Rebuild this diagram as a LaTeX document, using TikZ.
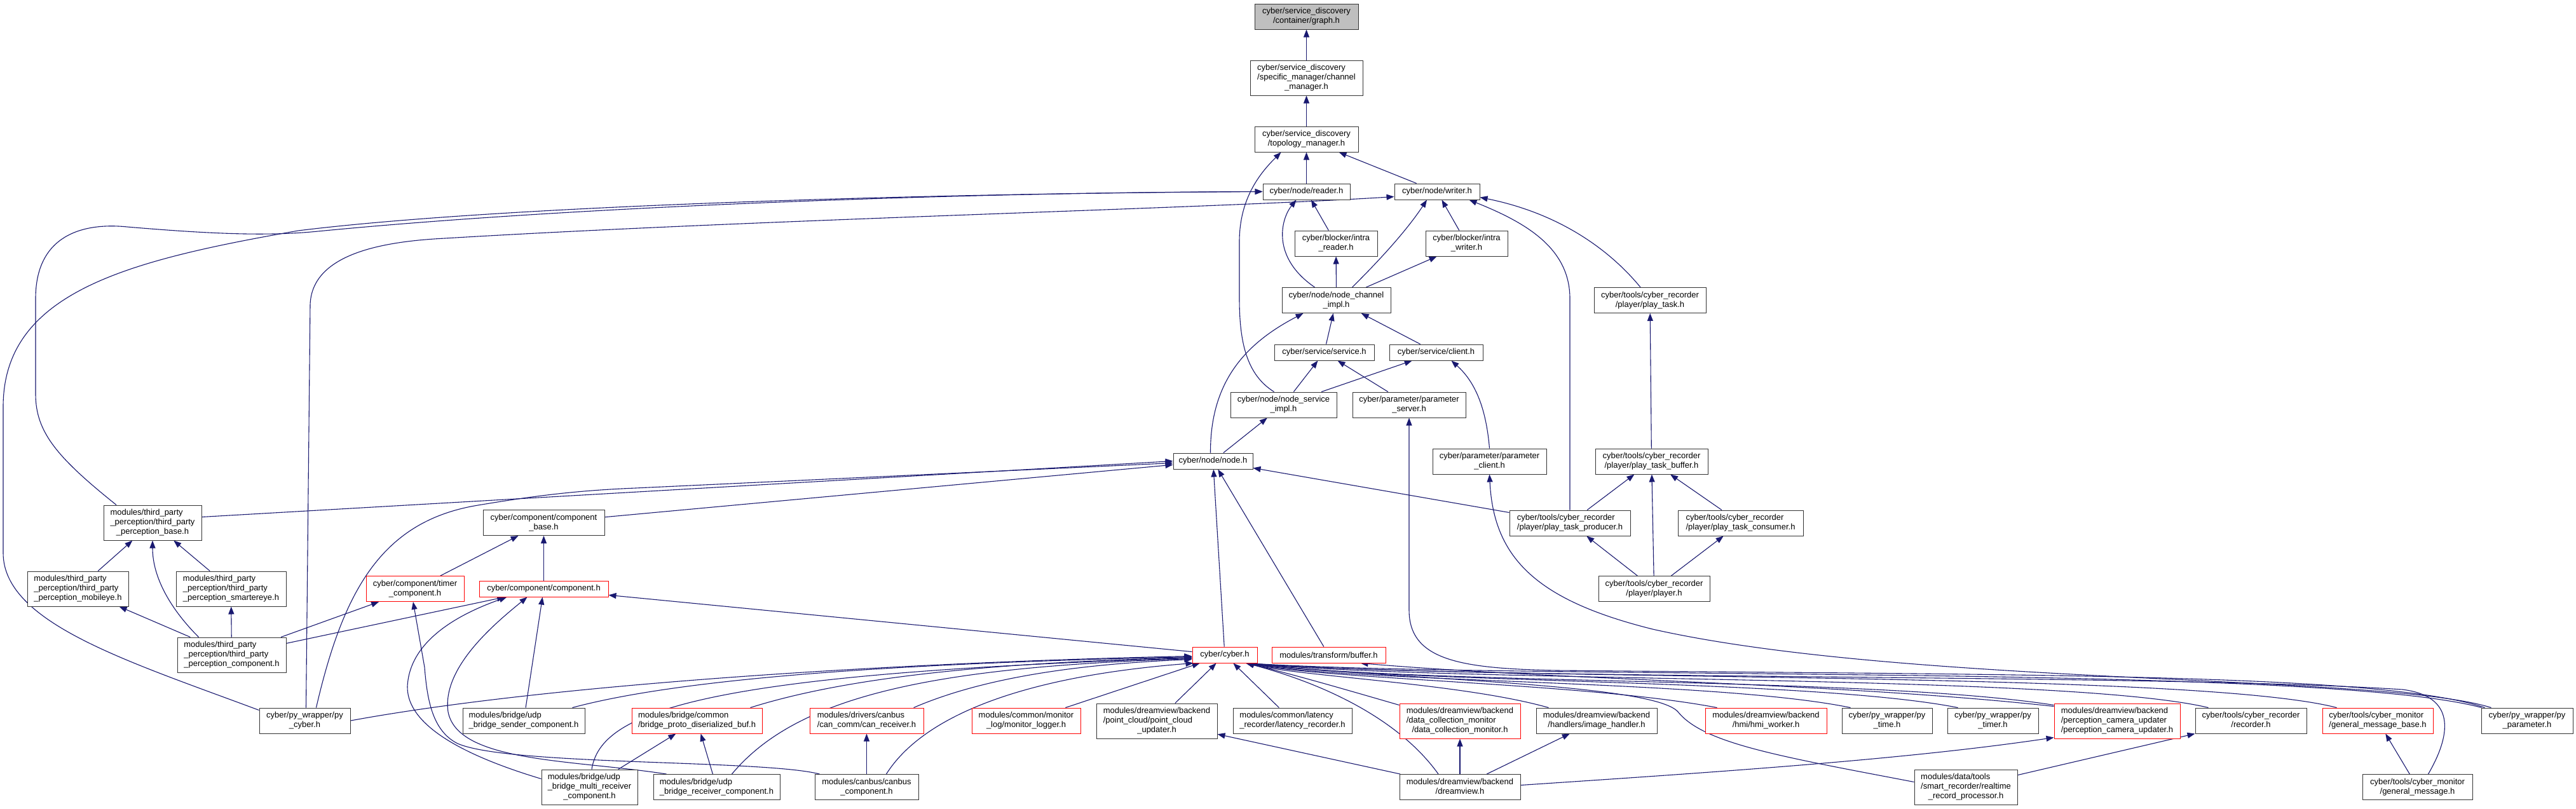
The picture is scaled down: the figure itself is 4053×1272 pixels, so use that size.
\documentclass[tikz,border=0pt]{standalone}
\usepackage{fontspec}
\setmainfont{Liberation Sans}
\usetikzlibrary{arrows.meta,calc}
\definecolor{edgec}{HTML}{191970}
\definecolor{rootc}{HTML}{BFBFBF}
\definecolor{redc}{HTML}{FF0000}
\definecolor{boxc}{HTML}{333333}
\newcommand{\dlab}[2]{\begin{tabular}{@{}l@{}}#1\\\multicolumn{1}{@{}c@{}}{#2}\end{tabular}}
\pgfdeclarelayer{paper}
\pgfdeclarelayer{bg}
\pgfsetlayers{paper,bg,main}
\begin{document}
\begin{tikzpicture}[x=1pt,y=-1pt,
  box/.style={draw=boxc,line width=1pt,inner sep=0pt,fill=white,font=\fontsize{13}{15}\selectfont},
  rbox/.style={box,draw=redc},
  root/.style={box,fill=rootc},
  sz/.style 2 args={minimum width=#1pt,minimum height=#2pt},
  dep/.style={draw=edgec,line width=1.1pt,-{Triangle[length=12pt,width=9pt]}}]
\begin{pgfonlayer}{paper}
\fill[white] (0,0) rectangle (4053,1272);
\end{pgfonlayer}
\useasboundingbox (0,0) rectangle (4053,1272);

% ---- top chain
\node[root,sz={163}{40}] (graph) at (2055.5,26) {\dlab{cyber/service\_discovery}{/container/graph.h}};
\node[box,sz={177}{55}] (chman) at (2055.5,122.5) {\dlab{cyber/service\_discovery\\/specific\_manager/channel}{\_manager.h}};
\node[box,sz={163}{40}] (topo) at (2055.5,219) {\dlab{cyber/service\_discovery}{/topology\_manager.h}};
\node[box,sz={137}{25}] (reader) at (2055.5,301.5) {cyber/node/reader.h};
\node[box,sz={134}{25}] (writer) at (2261,301.5) {cyber/node/writer.h};
\node[box,sz={130}{40}] (ireader) at (2102,383) {\dlab{cyber/blocker/intra}{\_reader.h}};
\node[box,sz={129}{40}] (iwriter) at (2307.5,383) {\dlab{cyber/blocker/intra}{\_writer.h}};
\node[box,sz={171}{40}] (nci) at (2102.5,472.5) {\dlab{cyber/node/node\_channel}{\_impl.h}};
\node[box,sz={157}{25}] (service) at (2083.5,554.5) {cyber/service/service.h};
\node[box,sz={147}{25}] (client) at (2259.5,554.5) {cyber/service/client.h};
\node[box,sz={167}{40}] (nsi) at (2019.5,637) {\dlab{cyber/node/node\_service}{\_impl.h}};
\node[box,sz={178}{40}] (pserver) at (2217,637) {\dlab{cyber/parameter/parameter}{\_server.h}};
\node[box,sz={179}{40}] (pclient) at (2343.5,726) {\dlab{cyber/parameter/parameter}{\_client.h}};
\node[box,sz={125}{25}] (node) at (1908.5,725.5) {cyber/node/node.h};
% ---- recorder
\node[box,sz={176}{40}] (ptask) at (2596,472.5) {\dlab{cyber/tools/cyber\_recorder}{/player/play\_task.h}};
\node[box,sz={177}{40}] (pbuf) at (2598.5,726) {\dlab{cyber/tools/cyber\_recorder}{/player/play\_task\_buffer.h}};
\node[box,sz={190}{40}] (producer) at (2470,823) {\dlab{cyber/tools/cyber\_recorder}{/player/play\_task\_producer.h}};
\node[box,sz={197}{40}] (consumer) at (2738.5,823) {\dlab{cyber/tools/cyber\_recorder}{/player/play\_task\_consumer.h}};
\node[box,sz={175}{40}] (player) at (2602.5,926.5) {\dlab{cyber/tools/cyber\_recorder}{/player/player.h}};
% ---- left part
\node[box,sz={154}{55}] (tbase) at (240,822.5) {\dlab{modules/third\_party\\\_perception/third\_party}{\_perception\_base.h}};
\node[box,sz={191}{40}] (cbase) at (855.5,822.5) {\dlab{cyber/component/component}{\_base.h}};
\node[box,sz={159}{55}] (mobileye) at (122.5,926.5) {\dlab{modules/third\_party\\\_perception/third\_party}{\_perception\_mobileye.h}};
\node[box,sz={173}{55}] (smarteye) at (363.5,926.5) {\dlab{modules/third\_party\\\_perception/third\_party}{\_perception\_smartereye.h}};
\node[rbox,sz={154}{40}] (timer) at (653,926.5) {\dlab{cyber/component/timer}{\_component.h}};
\node[rbox,sz={203}{25}] (comp) at (855.5,926.5) {cyber/component/component.h};
\node[box,sz={171}{55}] (tcomp) at (364.5,1030.5) {\dlab{modules/third\_party\\\_perception/third\_party}{\_perception\_component.h}};
\node[rbox,sz={179}{25}] (buffer) at (2090.5,1030.5) {modules/transform/buffer.h};
\node[rbox,sz={102}{25}] (cyber) at (1927,1030.5) {cyber/cyber.h};
% ---- bottom row
\node[box,sz={143}{40}] (pycyber) at (479.5,1134) {\dlab{cyber/py\_wrapper/py}{\_cyber.h}};
\node[box,sz={192}{40}] (sender) at (824,1134) {\dlab{modules/bridge/udp}{\_bridge\_sender\_component.h}};
\node[rbox,sz={205}{40}] (protobuf) at (1096.5,1134) {\dlab{modules/bridge/common}{/bridge\_proto\_diserialized\_buf.h}};
\node[rbox,sz={179}{40}] (canrecv) at (1363.5,1134) {\dlab{modules/drivers/canbus}{/can\_comm/can\_receiver.h}};
\node[rbox,sz={171}{40}] (monlog) at (1614.5,1134) {\dlab{modules/common/monitor}{\_log/monitor\_logger.h}};
\node[box,sz={190}{55}] (pcloud) at (1820,1134.5) {\dlab{modules/dreamview/backend\\/point\_cloud/point\_cloud}{\_updater.h}};
\node[box,sz={187}{40}] (latency) at (2033.5,1134) {\dlab{modules/common/latency}{\_recorder/latency\_recorder.h}};
\node[rbox,sz={190}{55}] (dcm) at (2297,1134.5) {\dlab{modules/dreamview/backend\\/data\_collection\_monitor}{/data\_collection\_monitor.h}};
\node[box,sz={190}{40}] (imgh) at (2512,1134) {\dlab{modules/dreamview/backend}{/handlers/image\_handler.h}};
\node[rbox,sz={191}{40}] (hmi) at (2778.5,1134) {\dlab{modules/dreamview/backend}{/hmi/hmi\_worker.h}};
\node[box,sz={142}{40}] (pytime) at (2969,1134) {\dlab{cyber/py\_wrapper/py}{\_time.h}};
\node[box,sz={143}{40}] (pytimer) at (3135.5,1134) {\dlab{cyber/py\_wrapper/py}{\_timer.h}};
\node[rbox,sz={198}{55}] (pcu) at (3331,1134.5) {\dlab{modules/dreamview/backend\\/perception\_camera\_updater}{/perception\_camera\_updater.h}};
\node[box,sz={175}{40}] (recorder) at (3541.5,1134) {\dlab{cyber/tools/cyber\_recorder}{/recorder.h}};
\node[rbox,sz={174}{40}] (gmb) at (3741,1134) {\dlab{cyber/tools/cyber\_monitor}{/general\_message\_base.h}};
\node[box,sz={144}{40}] (pyparam) at (3976,1134) {\dlab{cyber/py\_wrapper/py}{\_parameter.h}};
% ---- bottom-most row
\node[box,sz={151}{55}] (multirecv) at (927.5,1238.5) {\dlab{modules/bridge/udp\\\_bridge\_multi\_receiver}{\_component.h}};
\node[box,sz={199}{40}] (recvcomp) at (1127.5,1238.5) {\dlab{modules/bridge/udp}{\_bridge\_receiver\_component.h}};
\node[box,sz={163}{40}] (canbuscomp) at (1363.5,1238.5) {\dlab{modules/canbus/canbus}{\_component.h}};
\node[box,sz={190}{40}] (dreamview) at (2297,1238.5) {\dlab{modules/dreamview/backend}{/dreamview.h}};
\node[box,sz={162}{55}] (realtime) at (3093,1238.5) {\dlab{modules/data/tools\\/smart\_recorder/realtime}{\_record\_processor.h}};
\node[box,sz={173}{40}] (genmsg) at (3803.5,1238.5) {\dlab{cyber/tools/cyber\_monitor}{/general\_message.h}};

\begin{pgfonlayer}{bg}
% straight edges
\foreach \a/\b in {chman/graph,topo/chman,reader/topo,writer/topo,ireader/reader,iwriter/writer,
  nci/ireader,nci/iwriter,service/nci,client/nci,nsi/service,pserver/service,nsi/client,node/nsi,
  pbuf/ptask,producer/pbuf,consumer/pbuf,player/pbuf,player/producer,player/consumer,producer/node,
  mobileye/tbase,smarteye/tbase,tcomp/smarteye,tcomp/mobileye,tcomp/timer,tcomp/comp,timer/cbase,
  comp/cbase,cbase/node,sender/comp,cyber/comp,cyber/node,buffer/node,monlog/cyber,pcloud/cyber,
  latency/cyber,dreamview/pcloud,dreamview/dcm,dreamview/imgh,realtime/recorder,genmsg/gmb,
  canbuscomp/canrecv,multirecv/protobuf,recvcomp/protobuf}
  \path[dep] (\a) -- (\b);

% curved edges
\path[dep] ($(nsi.north)+(-15,0)$) .. controls (1962,590) and (1950,540) .. (1950,470) -- (1950,380)
   .. controls (1950,310) and (1985,270) .. ($(topo.south)+(-40,0)$);
\path[dep] ($(nci.north)+(-34,0)$) .. controls (2000,405) and (2015,345) .. ($(reader.south)+(-16,0)$);
\path[dep] ($(nci.north)+(25,0)$) .. controls (2175,405) and (2215,360) .. ($(writer.south)+(-16,0)$);
\path[dep] ($(node.north)+(-4,0)$) .. controls (1904,600) and (1960,540) .. ($(nci.south)+(-52,0)$);
\path[dep] (pclient.north) .. controls (2338,640) and (2320,600) .. ($(client.south)+(24,0)$);
\path[dep] ($(pyparam.north west)+(6,0)$) .. controls (3750,1060) and (3200,1062) .. (2450,1055)
   .. controls (2300,1052) and (2217,1040) .. (2217,960) -- (pserver.south);
\path[dep] ($(pyparam.north west)+(16,0)$) .. controls (3750,1060) and (3000,1080) .. (2600,990)
   .. controls (2420,945) and (2350,880) .. (pclient.south);
\path[dep] ($(ptask.north)+(-15,0)$) .. controls (2530,390) and (2450,335) .. ($(writer.east)+(0,9)$);
\path[dep] (producer.north) -- (2470,470) .. controls (2470,390) and (2400,350) .. ($(writer.south east)+(-17,0)$);
% left long curves
\path[dep] ($(tbase.north)+(-57,0)$) .. controls (90,720) and (56,680) .. (56,620) -- (56,470)
   .. controls (56,370) and (130,350) .. (200,357) .. controls (330,368) and (420,372) .. (500,364)
   .. controls (900,325) and (1500,303) .. (reader.west);
\path[dep] ($(pycyber.north west)+(0,4)$) .. controls (200,1040) and (5,980) .. (5,870) -- (5,640)
   .. controls (5,460) and (200,410) .. (469,363) .. controls (800,322) and (1500,304) .. (reader.west);
\path[dep] ($(pycyber.north)+(2,0)$) -- (488,480) .. controls (490,400) and (600,380) .. (700,375)
   .. controls (1200,345) and (1900,328) .. ($(writer.west)+(0,8)$);
\path[dep] ($(pycyber.north)+(18,0)$) .. controls (540,930) and (600,820) .. (752,795)
   .. controls (830,782) and (900,772) .. (1000,768) -- ($(node.west)+(0,3)$);
\path[dep] ($(tbase.east)+(0,-9)$) -- (node.west);
\path[dep] ($(tcomp.north)+(-52,0)$) .. controls (270,960) and (240,910) .. (tbase.south);
% component related
\path[dep] ($(canbuscomp.north west)+(8,0)$) .. controls (1200,1195) and (800,1205) .. (720,1170)
   .. controls (680,1150) and (672,1100) .. (668,1050) -- ($(timer.south)+(-3,0)$);
\path[dep] ($(recvcomp.north west)+(21,0)$) .. controls (900,1195) and (720,1200) .. (705,1120)
   .. controls (695,1050) and (780,980) .. ($(comp.south)+(-26,0)$);
\path[dep] ($(multirecv.west)+(0,-13)$) .. controls (700,1180) and (640,1130) .. (641,1080)
   .. controls (645,1000) and (740,960) .. ($(comp.south)+(-58,0)$);
% into cyber.h from the left
\path[dep] (pycyber.east) .. controls (900,1070) and (1500,1040) .. ($(cyber.west)+(0,2)$);
\path[dep] ($(sender.north east)+(-20,0)$) .. controls (1100,1060) and (1500,1042) .. ($(cyber.west)+(0,3)$);
\path[dep] ($(protobuf.north east)+(-19,0)$) .. controls (1350,1060) and (1600,1042) .. ($(cyber.west)+(0,4)$);
\path[dep] ($(multirecv.north)+(3.5,0)$) .. controls (945,1120) and (1100,1060) .. ($(cyber.west)+(0,5)$);
\path[dep] ($(recvcomp.north east)+(-76,0)$) .. controls (1250,1100) and (1450,1050) .. ($(cyber.west)+(0,6)$);
\path[dep] ($(canrecv.north east)+(-16,0)$) .. controls (1550,1065) and (1700,1045) .. ($(cyber.west)+(0,7)$);
\path[dep] ($(canbuscomp.north east)+(-51,0)$) .. controls (1450,1130) and (1600,1065) .. ($(cyber.south west)+(2,0)$);
% into cyber.h from the right
\path[dep] ($(dcm.north west)+(0,3)$) .. controls (2100,1080) and (2030,1060) .. ($(cyber.south east)+(-18,0)$);
\path[dep] ($(dreamview.north)+(-34,0)$) .. controls (2200,1130) and (2080,1075) .. ($(cyber.south east)+(-18,0)$);
\path[dep] ($(imgh.north west)+(20,0)$) .. controls (2300,1075) and (2050,1065) .. ($(cyber.south east)+(-18,0)$);
\path[dep] ($(hmi.north west)+(19,0)$) .. controls (2500,1075) and (2100,1070) .. ($(cyber.south east)+(-18,0)$);
\path[dep] ($(pytime.north west)+(14,0)$) .. controls (2700,1070) and (2150,1075) .. ($(cyber.south east)+(-18,0)$);
\path[dep] ($(pytimer.north west)+(17,0)$) .. controls (2850,1068) and (2200,1075) .. ($(cyber.south east)+(-18,0)$);
\path[dep] ($(pcu.north west)+(0,3)$) .. controls (2950,1065) and (2250,1078) .. ($(cyber.south east)+(-18,0)$);
\path[dep] ($(pcu.north west)+(0,5)$) .. controls (2900,1075) and (2450,1070) .. ($(buffer.south)+(50,0)$);
\path[dep] ($(recorder.north west)+(21,0)$) .. controls (3250,1060) and (2300,1075) .. ($(cyber.south east)+(-18,0)$);
\path[dep] ($(gmb.north west)+(23,0)$) .. controls (3450,1055) and (2350,1072) .. ($(cyber.south east)+(-18,0)$);
\path[dep] ($(pyparam.north west)+(1,0)$) .. controls (3650,1045) and (2400,1070) .. ($(cyber.south east)+(-18,0)$);
\path[dep] ($(genmsg.north)+(17,0)$) .. controls (3860,1150) and (3860,1095) .. (3780,1085)
   .. controls (3400,1060) and (2300,1070) .. ($(cyber.south east)+(-18,0)$);
\path[dep] ($(realtime.west)+(0,-8)$) .. controls (2800,1190) and (2680,1170) .. (2640,1120)
   .. controls (2600,1075) and (2200,1070) .. ($(cyber.south east)+(-18,0)$);
\path[dep] ($(dreamview.east)+(0,-3)$) .. controls (2700,1215) and (3000,1195) .. ($(pcu.south west)+(0,-2)$);
\end{pgfonlayer}
\end{tikzpicture}
\end{document}
